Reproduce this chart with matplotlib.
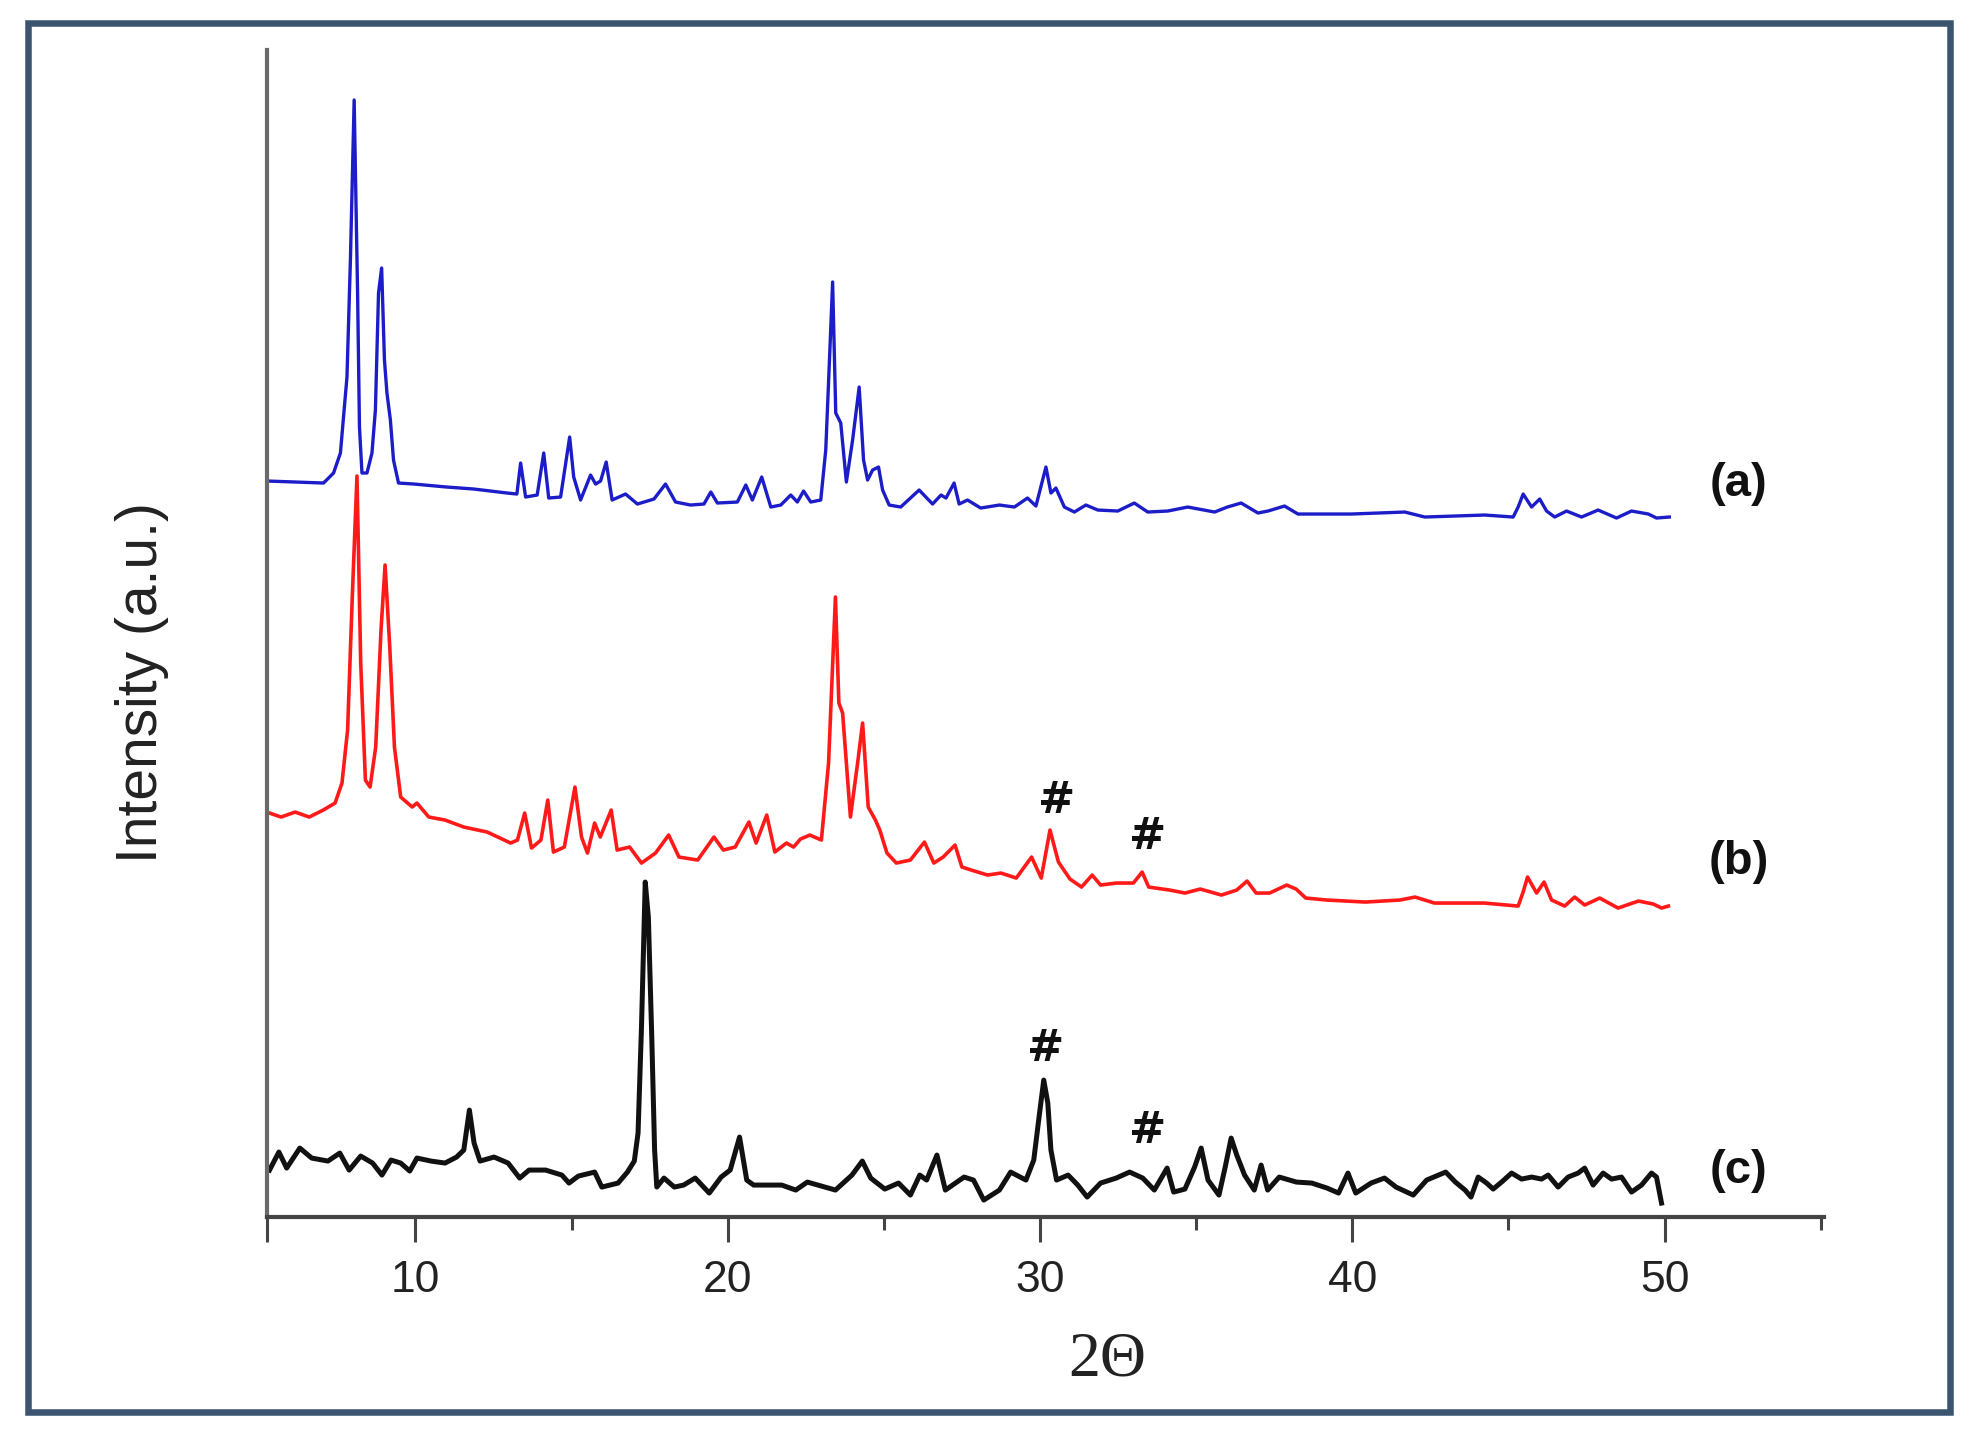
import matplotlib
matplotlib.use('Agg')
import matplotlib.pyplot as plt
from matplotlib.patches import Rectangle

plt.rcParams['font.family'] = ['Liberation Sans', 'DejaVu Sans']

# (a) blue pattern: 2theta, intensity (a.u.)
two_theta_a = [5.26, 7.06, 7.38, 7.60, 7.81, 7.92, 8.04, 8.15, 8.21, 8.29, 8.45, 8.61,
               8.72, 8.82, 8.92, 9.01, 9.09, 9.20, 9.30, 9.46, 9.95, 11.0, 11.87, 12.94,
               13.25, 13.37, 13.53, 13.90, 14.11, 14.27, 14.65, 14.94, 15.07, 15.29, 15.61,
               15.77, 15.93, 16.11, 16.30, 16.73, 17.11, 17.64, 18.01, 18.33, 18.81, 19.24,
               19.46, 19.67, 20.31, 20.58, 20.79, 21.09, 21.38, 21.70, 22.02, 22.23, 22.43,
               22.66, 22.98, 23.14, 23.25, 23.36, 23.46, 23.62, 23.80, 24.00, 24.21, 24.35,
               24.48, 24.64, 24.83, 24.96, 25.17, 25.54, 26.13, 26.56, 26.83, 26.99, 27.25,
               27.41, 27.68, 28.10, 28.70, 29.18, 29.60, 29.87, 30.19, 30.35, 30.51, 30.78,
               31.10, 31.47, 31.85, 32.49, 33.02, 33.45, 34.09, 34.73, 35.59, 36.00, 36.44,
               36.98, 37.30, 37.83, 38.26, 39.97, 41.68, 42.32, 44.24, 45.15, 45.31, 45.47,
               45.74, 46.00, 46.22, 46.48, 46.86, 47.34, 47.87, 48.46, 48.94, 49.48, 49.74,
               50.15]
intensity_a = [73.6, 73.4, 74.4, 76.4, 84.0, 95.7, 111.7, 92.4, 79.0, 74.4, 74.4, 76.4,
               80.7, 92.4, 94.9, 85.7, 82.4, 79.7, 75.7, 73.4, 73.3, 73.0, 72.8, 72.4,
               72.3, 75.4, 72.0, 72.2, 76.4, 71.9, 72.0, 78.0, 74.0, 71.7, 74.2,
               73.3, 73.6, 75.5, 71.7, 72.3, 71.3, 71.8, 73.3, 71.5, 71.2, 71.3,
               72.5, 71.4, 71.5, 73.2, 71.7, 74.0, 71.0, 71.2, 72.2, 71.5, 72.6,
               71.5, 71.7, 76.7, 85.0, 93.5, 80.4, 79.4, 73.5, 77.7, 83.0, 75.7,
               73.7, 74.7, 75.0, 72.7, 71.2, 71.0, 72.7, 71.3, 72.2, 71.9, 73.4,
               71.3, 71.7, 70.9, 71.2, 71.0, 71.9, 71.1, 75.0, 72.4, 72.9, 71.0,
               70.5, 71.2, 70.7, 70.6, 71.4, 70.5, 70.6, 71.0, 70.5, 71.0, 71.4,
               70.4, 70.6, 71.1, 70.3, 70.3, 70.5, 70.0, 70.2, 70.0, 71.0, 72.3,
               71.0, 71.8, 70.6, 70.0, 70.6, 70.0, 70.7, 69.9, 70.6, 70.3, 69.9,
               70.0]

# (b) red pattern
two_theta_b = [5.33, 5.70, 6.15, 6.60, 7.05, 7.43, 7.65, 7.83, 7.98, 8.13, 8.25, 8.40,
               8.55, 8.73, 8.90, 9.03, 9.18, 9.33, 9.53, 9.90, 10.05, 10.43, 10.95, 11.55,
               12.30, 13.05, 13.27, 13.50, 13.72, 14.02, 14.24, 14.42, 14.77, 15.11, 15.32,
               15.51, 15.74, 15.92, 16.27, 16.46, 16.86, 17.24, 17.69, 18.11, 18.44, 19.04,
               19.56, 19.86, 20.24, 20.68, 20.91, 21.25, 21.51, 21.88, 22.11, 22.33, 22.63,
               23.00, 23.23, 23.45, 23.56, 23.68, 23.93, 24.16, 24.32, 24.50, 24.73, 24.87,
               25.10, 25.40, 25.85, 26.30, 26.60, 26.90, 27.28, 27.50, 27.80, 28.32, 28.75,
               29.24, 29.73, 30.04, 30.32, 30.59, 30.96, 31.33, 31.67, 31.94, 32.44, 32.99,
               33.27, 33.48, 34.15, 34.64, 35.13, 35.81, 36.30, 36.63, 36.92, 37.35, 37.90,
               38.20, 38.51, 39.19, 40.42, 41.52, 42.01, 42.63, 43.49, 44.22, 45.31, 45.47,
               45.61, 45.90, 46.14, 46.38, 46.80, 47.12, 47.44, 47.92, 48.51, 49.16, 49.64,
               49.90, 50.12]
intensity_b = [40.4, 40.0, 40.5, 40.0, 40.7, 41.4, 43.4, 48.7, 62.0, 74.1, 55.4, 43.7,
               43.0, 47.0, 58.7, 65.2, 57.0, 47.0, 42.0, 41.0, 41.4, 40.0, 39.7, 39.0,
               38.5, 37.4, 37.7, 40.4, 36.9, 37.7, 41.7, 36.5, 37.0, 43.0, 38.0,
               36.4, 39.4, 38.0, 40.7, 36.7, 37.0, 35.4, 36.4, 38.2, 36.0, 35.7,
               38.0, 36.7, 37.0, 39.5, 37.4, 40.2, 36.5, 37.4, 37.0, 37.8, 38.2,
               37.7, 45.4, 62.0, 51.4, 50.4, 40.0, 45.4, 49.4, 41.0, 39.7, 38.7,
               36.4, 35.4, 35.7, 37.5, 35.4, 36.0, 37.2, 35.0, 34.7, 34.2, 34.4,
               33.9, 36.0, 33.9, 38.7, 35.5, 33.8, 33.0, 34.2, 33.2, 33.4, 33.4,
               34.5, 33.0, 32.7, 32.4, 32.8, 32.2, 32.7, 33.6, 32.4, 32.4, 33.2,
               32.8, 31.9, 31.7, 31.5, 31.7, 32.0, 31.4, 31.4, 31.4, 31.1, 32.5,
               34.0, 32.4, 33.5, 31.7, 31.1, 32.0, 31.2, 31.9, 30.9, 31.6, 31.3,
               30.9, 31.1]

# (c) black pattern
two_theta_c = [5.33, 5.63, 5.88, 6.30, 6.68, 7.20, 7.58, 7.88, 8.25, 8.63, 8.93, 9.22,
               9.53, 9.82, 10.05, 10.50, 10.95, 11.32, 11.55, 11.73, 11.88, 12.07, 12.52,
               12.97, 13.34, 13.64, 14.17, 14.69, 14.92, 15.22, 15.74, 15.97, 16.49, 16.79,
               17.01, 17.13, 17.24, 17.36, 17.46, 17.57, 17.66, 17.73, 17.96, 18.29, 18.59,
               18.96, 19.41, 19.79, 20.08, 20.38, 20.61, 20.83, 21.73, 22.18, 22.55, 23.45,
               23.98, 24.31, 24.58, 25.03, 25.47, 25.85, 26.15, 26.37, 26.70, 26.97, 27.57,
               27.87, 28.20, 28.70, 29.06, 29.55, 29.80, 29.97, 30.12, 30.25, 30.35, 30.53,
               30.90, 31.21, 31.51, 31.94, 32.44, 32.87, 33.29, 33.66, 34.07, 34.28, 34.64,
               34.95, 35.16, 35.38, 35.73, 35.93, 36.12, 36.30, 36.55, 36.86, 37.08, 37.29,
               37.66, 38.21, 38.70, 39.19, 39.56, 39.86, 40.11, 40.60, 41.03, 41.40, 41.95,
               42.38, 42.99, 43.30, 43.61, 43.80, 44.03, 44.30, 44.51, 44.78, 45.10, 45.42,
               45.74, 46.06, 46.27, 46.59, 46.91, 47.23, 47.44, 47.71, 48.03, 48.30, 48.62,
               48.94, 49.26, 49.58, 49.74, 49.90]
intensity_c = [4.7, 6.5, 4.9, 6.9, 5.9, 5.6, 6.4, 4.7, 6.1, 5.4, 4.2, 5.7,
               5.4, 4.6, 5.9, 5.6, 5.4, 6.0, 6.7, 10.7, 7.4, 5.6, 6.0,
               5.4, 3.9, 4.7, 4.7, 4.2, 3.4, 4.1, 4.5, 3.0, 3.4, 4.5,
               5.6, 8.4, 19.0, 33.5, 30.0, 17.9, 6.7, 3.0, 3.9, 3.0, 3.2,
               3.9, 2.4, 4.0, 4.7, 8.0, 3.7, 3.2, 3.2, 2.7, 3.5, 2.7,
               4.2, 5.6, 3.9, 2.8, 3.4, 2.2, 4.2, 3.7, 6.2, 2.7, 4.0,
               3.7, 1.7, 2.7, 4.5, 3.7, 5.7, 10.0, 13.7, 11.4, 6.7, 3.7,
               4.2, 3.2, 2.0, 3.4, 3.9, 4.5, 3.9, 2.7, 4.9, 2.5, 2.8,
               5.0, 6.9, 3.7, 2.2, 5.0, 7.9, 6.2, 4.2, 2.7, 5.2, 2.7,
               4.0, 3.5, 3.4, 2.9, 2.4, 4.4, 2.4, 3.4, 3.9, 3.0, 2.2,
               3.7, 4.5, 3.5, 2.7, 2.0, 4.0, 3.4, 2.8, 3.5, 4.4, 3.8,
               4.0, 3.8, 4.2, 3.0, 4.0, 4.4, 4.9, 3.2, 4.4, 3.8, 4.0,
               2.5, 3.2, 4.4, 4.0, 1.4]

tick_values = [10, 20, 30, 40, 50]
minor_tick_values = [15, 25, 35, 45, 55]


def main():
    fig = plt.figure(figsize=(19.75, 14.41), dpi=100)
    ax = fig.add_axes([0.1352, 0.1554, 0.7883, 0.8099])

    ax.plot(two_theta_a, intensity_a, color='#1c1cc8', lw=2.4)
    ax.plot(two_theta_b, intensity_b, color='#ff1a1a', lw=2.6)
    ax.plot(two_theta_c, intensity_c, color='#111111', lw=3.6)

    ax.set_xlim(5.25, 55.1)
    ax.set_ylim(0, 116.7)

    ax.spines['top'].set_visible(False)
    ax.spines['right'].set_visible(False)
    ax.spines['left'].set_color('#6a6a6a')
    ax.spines['left'].set_linewidth(3)
    ax.spines['bottom'].set_color('#444444')
    ax.spines['bottom'].set_linewidth(3)

    ax.set_yticks([])
    xmin = ax.get_xlim()[0]
    ax.set_xticks([xmin] + tick_values)
    ax.set_xticklabels([''] + [str(t) for t in tick_values])
    ax.set_xticks(minor_tick_values, minor=True)
    ax.tick_params(axis='x', which='major', length=18, width=2.2, direction='out',
                   pad=13, labelsize=32, color='#444444', labelcolor='#222222')
    ax.tick_params(axis='x', which='minor', length=9.4, width=2.2, direction='out',
                   color='#444444')

    # sample labels
    label_kw = dict(fontsize=34, fontweight='bold', ha='center', va='center', color='#111111')
    ax.text(52.37, 73.3, '(a)', **label_kw)
    ax.text(52.37, 35.5, '(b)', **label_kw)
    ax.text(52.37, 4.6, '(c)', **label_kw)

    # impurity markers
    hash_kw = dict(fontsize=32, fontweight='bold', family='DejaVu Sans',
                   ha='center', va='center', color='#111111')
    ax.text(30.54, 41.7, '#', **hash_kw)
    ax.text(33.46, 38.1, '#', **hash_kw)
    ax.text(30.19, 16.9, '#', **hash_kw)
    ax.text(33.46, 8.7, '#', **hash_kw)

    fig.text(142 / 1975, 1 - 683 / 1441, 'Intensity (a.u.)', rotation=90,
             fontsize=41, ha='center', va='center', color='#222222')
    fig.text(1107 / 1975, 1 - 1360 / 1441, '2Θ', fontsize=46,
             family=['Liberation Serif', 'DejaVu Serif'],
             ha='center', va='center', color='#222222')

    # outer frame
    fig.patches.append(Rectangle((0.01438, 0.01978), 0.97281, 0.96405,
                                 transform=fig.transFigure, fill=False,
                                 edgecolor='#3b5470', linewidth=4.7))

    fig.savefig('out.png', dpi=100, facecolor='white')


if __name__ == '__main__':
    main()
